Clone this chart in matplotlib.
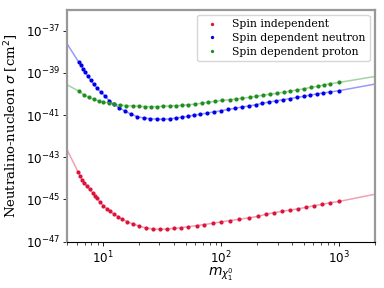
import numpy as np
import matplotlib
matplotlib.use("Agg")
import matplotlib.pyplot as plt

# neutralino mass (GeV) at each marker
m_si = [6.15, 6.44, 6.70, 6.96, 7.33, 7.71, 8.17, 8.56, 8.90, 9.36, 10.1, 10.8, 11.5, 12.4,
        13.5, 14.6, 16.1, 17.9, 20.3, 23.2, 26.7, 30.4, 35.0, 39.9, 45.4, 52.3, 61.9, 71.3,
        84.5, 99.8, 118, 142, 171, 205, 238, 279, 328, 384, 448, 523, 615, 718, 838, 1000]
# log10 of the cross section (cm^2)
si_log = [-43.68, -43.89, -44.08, -44.20, -44.36, -44.52, -44.68, -44.82, -44.94, -45.10,
          -45.29, -45.44, -45.55, -45.69, -45.82, -45.94, -46.05, -46.16, -46.26, -46.35,
          -46.40, -46.41, -46.40, -46.37, -46.34, -46.29, -46.24, -46.19, -46.13, -46.06,
          -46.00, -45.94, -45.87, -45.80, -45.70, -45.63, -45.56, -45.50, -45.44, -45.37,
          -45.29, -45.23, -45.15, -45.09]

m_sdn = [6.23, 6.53, 6.78, 7.09, 7.42, 7.86, 8.33, 8.90, 9.62, 10.4, 11.3, 12.45, 13.7, 15.4,
         17.2, 19.6, 22.3, 25.0, 28.5, 32.0, 36.9, 41.5, 46.6, 52.8, 59.3, 66.0, 75.2, 86.6,
         100.6, 114.3, 131, 149, 172, 196, 223, 253, 292, 332, 384, 436, 503, 565, 643, 732,
         833, 1000]
sdn_log = [-38.48, -38.64, -38.80, -38.97, -39.15, -39.34, -39.53, -39.72, -39.92, -40.09,
           -40.32, -40.49, -40.65, -40.81, -40.95, -41.08, -41.14, -41.17, -41.19, -41.20,
           -41.18, -41.14, -41.10, -41.05, -41.00, -40.96, -40.91, -40.85, -40.79, -40.73,
           -40.68, -40.62, -40.57, -40.51, -40.44, -40.38, -40.33, -40.27, -40.22, -40.16,
           -40.11, -40.05, -40.00, -39.95, -39.91, -39.84]

m_sdp = [6.23, 6.87, 7.62, 8.33, 9.18, 10.1, 11.15, 12.45, 14.0, 15.6, 17.8, 20.2, 22.6, 25.7,
         28.8, 32.4, 36.9, 41.5, 46.6, 52.8, 59.9, 68.2, 77.6, 88.3, 102.6, 118, 133, 151,
         174, 198, 225, 257, 296, 337, 384, 436, 506, 576, 655, 746, 833, 1000]
sdp_log = [-39.86, -40.03, -40.16, -40.25, -40.32, -40.38, -40.43, -40.49, -40.52, -40.55,
           -40.57, -40.58, -40.60, -40.60, -40.60, -40.58, -40.57, -40.55, -40.54, -40.51,
           -40.48, -40.44, -40.39, -40.35, -40.30, -40.27, -40.24, -40.20, -40.16, -40.11,
           -40.06, -40.01, -39.97, -39.92, -39.86, -39.81, -39.75, -39.68, -39.64, -39.57,
           -39.51, -39.45]

# the faint curves run on to the axis edges
m_ends = [5, 2000]
si_ends = [-42.67, -44.75]
sdn_ends = [-37.64, -39.53]
sdp_ends = [-39.57, -39.17]

labels = ["Spin independent", "Spin dependent neutron", "Spin dependent proton"]
colors = ["crimson", "#0000ee", "#1f8f1f"]

fig = plt.figure(figsize=(3.84, 2.88), dpi=100)
ax = fig.add_axes([0.1753, 0.1608, 0.8013, 0.8059])

series = [(m_si, si_log, si_ends), (m_sdn, sdn_log, sdn_ends), (m_sdp, sdp_log, sdp_ends)]
for (m, s, ends), lab, c in zip(series, labels, colors):
    line_m = [m_ends[0]] + m + [m_ends[1]]
    line_s = [ends[0]] + s + [ends[1]]
    ax.plot(line_m, 10.0 ** np.array(line_s), color=c, alpha=0.4, lw=1.1)
    ax.plot(m, 10.0 ** np.array(s), "o", color=c, ms=3.0, mew=0, label=lab)

ax.set_xscale("log")
ax.set_yscale("log")
ax.set_xlim(5, 2000)
ax.set_ylim(1e-47, 1e-36)
ax.set_yticks([1e-47, 1e-45, 1e-43, 1e-41, 1e-39, 1e-37])
ax.yaxis.set_minor_locator(matplotlib.ticker.NullLocator())
ax.tick_params(labelsize=8.6, length=3, width=0.6, pad=2.5)
ax.tick_params(which="minor", length=1.8, width=0.5)

for side in ["left", "top", "right"]:
    ax.spines[side].set_color("#999999")
    ax.spines[side].set_linewidth(1.6)
ax.spines["bottom"].set_linewidth(0.8)

ax.set_xlabel(r"$m_{\chi_1^0}$", fontsize=10, labelpad=0)
ax.set_ylabel(r"Neutralino-nucleon $\sigma$ [cm$^2$]", family="DejaVu Serif", fontsize=9.5, labelpad=3)

ax.legend(loc="upper right", prop={"family": "DejaVu Serif", "size": 7.8},
          markerscale=0.8, labelspacing=0.35, borderpad=0.4)

plt.savefig("out.png", dpi=100)
